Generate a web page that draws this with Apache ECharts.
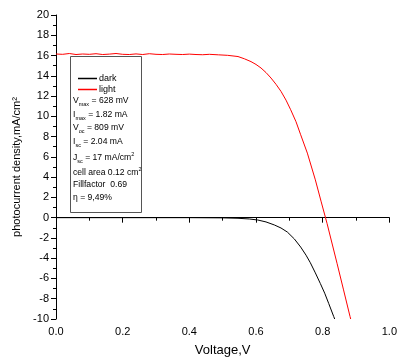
<!DOCTYPE html>
<html><head><meta charset="utf-8">
<script src="https://cdn.jsdelivr.net/npm/echarts@6/dist/echarts.min.js"></script>
<style>html,body{margin:0;padding:0;background:#fff}#c{width:400px;height:363px}</style>
</head><body><div id="c"></div>
<script>
// Light (illuminated) J-V curve
const lightV = [0,0.02,0.04,0.06,0.08,0.10,0.12,0.14,0.16,0.18,0.20,0.22,0.24,0.26,0.28,0.30,0.32,0.34,0.36,0.38,0.40,0.42,0.44,0.46,0.487,0.515,0.546,0.565,0.585,0.60,0.615,0.63,0.645,0.66,0.675,0.69,0.704,0.72,0.734,0.754,0.778,0.795,0.813,0.843,0.862,0.882,0.884];
const lightJ = [16.15,16.12,16.2,16.1,16.15,16.12,16.18,16.1,16.14,16.2,16.12,16.1,16.16,16.1,16.18,16.12,16.1,16.15,16.12,16.1,16.14,16.1,16.08,16.12,16.07,16.02,15.9,15.68,15.4,15.12,14.77,14.32,13.78,13.16,12.46,11.6,10.65,9.47,8.18,6.37,3.73,1.63,-0.56,-4.5,-7.05,-9.75,-10];
// Dark J-V curve
const darkV = [0,0.1,0.2,0.3,0.4,0.5,0.546,0.58,0.605,0.63,0.655,0.675,0.694,0.715,0.734,0.75,0.763,0.778,0.793,0.806,0.818,0.833,0.836];
const darkJ = [0,0,0,0,0,-0.02,-0.06,-0.13,-0.23,-0.42,-0.72,-1.02,-1.42,-2.1,-2.9,-3.7,-4.45,-5.45,-6.5,-7.45,-8.46,-9.75,-10];
const seriesNames = ['dark','light'];
const yTicks = {min:-10, max:20, interval:2};
const xTicks = {min:0, max:1, interval:0.2};
const infoLines = [
  ['V','max',' = 628 mV'],
  ['I','max',' = 1.82 mA'],
  ['V','oc',' = 809 mV'],
  ['I','sc',' = 2.04 mA'],
  ['J','sc',' = 17 mA/cm','2'],
  ['cell area 0.12 cm','','','2'],
  ['Fillfactor  0.69','',''],
  ['η = 9,49%','','']
];

const FONT = '"Liberation Sans", Arial, sans-serif';
const chart = echarts.init(document.getElementById('c'), null, {renderer:'canvas'});
const rich = {
  n:{fontSize:8.6, fontFamily:FONT, color:'#000', verticalAlign:'middle', lineHeight:13},
  s:{fontSize:5.5, fontFamily:FONT, color:'#000', verticalAlign:'bottom', lineHeight:13},
  p:{fontSize:5.5, fontFamily:FONT, color:'#000', verticalAlign:'top', lineHeight:13}
};
const infoY = [103,116.5,130,143.5,158,173,187,200];
const graphics = [{
  type:'rect', shape:{x:70.5, y:56.5, width:71, height:156},
  style:{fill:'#fff', stroke:'#555', lineWidth:1}, z:5
}];
infoLines.forEach((l,i)=>{
  let t = '{n|'+l[0]+'}';
  if (l[1]) t += '{s|'+l[1]+'}';
  if (l[2]) t += '{n|'+l[2]+'}';
  if (l[3]) t += '{p|'+l[3]+'}';
  graphics.push({type:'text', left:73, top:infoY[i]-6.5, z:6,
    style:{text:t, rich:rich, font:'8.6px '+FONT}});
});

chart.setOption({
  animation:false,
  grid:{left:56, right:7, top:15, bottom:44, containLabel:false},
  legend:{
    data:seriesNames.map(n=>({name:n, icon:'rect'})),
    orient:'vertical', left:73, top:69, itemWidth:19, itemHeight:1.5, itemGap:2,
    textStyle:{fontSize:9, fontFamily:FONT, color:'#000', padding:[0,0,0,-3]}, z:7
  },
  xAxis:{
    type:'value', min:xTicks.min, max:xTicks.max, interval:xTicks.interval,
    name:'Voltage,V', nameLocation:'middle', nameGap:25,
    nameTextStyle:{fontSize:13, fontFamily:FONT, color:'#000'},
    axisLine:{show:true, lineStyle:{color:'#000', width:1}},
    axisTick:{show:true, length:5, lineStyle:{color:'#000'}},
    minorTick:{show:true, splitNumber:2, length:3, lineStyle:{color:'#000'}},
    axisLabel:{fontSize:11, fontFamily:FONT, color:'#000', margin:7, formatter:v=>v.toFixed(1)},
    splitLine:{show:false}
  },
  yAxis:{
    type:'value', min:yTicks.min, max:yTicks.max, interval:yTicks.interval,
    name:'photocurrent density,mA/cm²', nameLocation:'middle', nameGap:33,
    nameTextStyle:{fontSize:11, fontFamily:FONT, color:'#000'},
    axisLine:{show:true, onZero:false, lineStyle:{color:'#000', width:1}},
    axisTick:{show:true, length:5, lineStyle:{color:'#000'}},
    minorTick:{show:true, splitNumber:2, length:3, lineStyle:{color:'#000'}},
    axisLabel:{fontSize:11, fontFamily:FONT, color:'#000', margin:7},
    splitLine:{show:false}
  },
  graphic:graphics,
  series:[
    {name:'dark', type:'line', data:darkV.map((v,i)=>[v,darkJ[i]]), showSymbol:false,
     lineStyle:{color:'#000', width:1}, itemStyle:{color:'#000'}, clip:true, z:3},
    {name:'light', type:'line', data:lightV.map((v,i)=>[v,lightJ[i]]), showSymbol:false,
     lineStyle:{color:'#ff0000', width:1}, itemStyle:{color:'#ff0000'}, clip:true, z:4}
  ]
});
</script></body></html>
